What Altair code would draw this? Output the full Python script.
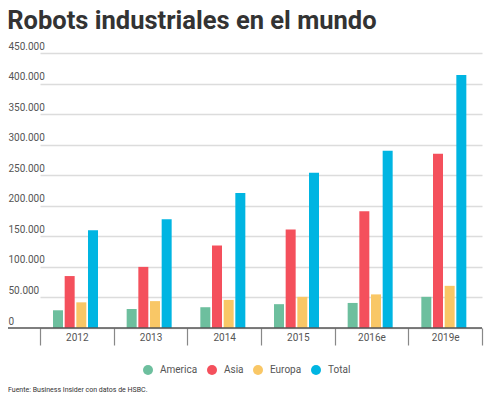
import altair as alt
import pandas as pd

years = ["2012", "2013", "2014", "2015", "2016e", "2019e"]
series = ["America", "Asia", "Europa", "Total"]
america = [29000, 31000, 34000, 39000, 41000, 51000]
asia = [85000, 100000, 135000, 161000, 191000, 285000]
europa = [42000, 44000, 46000, 51000, 55000, 69000]
total = [160000, 178000, 221000, 254000, 290000, 414000]
colors = ["#6dbf9e", "#f4505c", "#f9c766", "#00b5e2"]
y_ticks = [0, 50000, 100000, 150000, 200000, 250000, 300000, 350000, 400000, 450000]
title_text = "Robots industriales en el mundo"
source_text = "Fuente: Business Insider con datos de HSBC."

rows = []
for name, vals in zip(series, [america, asia, europa, total]):
    for yr, v in zip(years, vals):
        rows.append({"year": yr, "serie": name, "value": v})
df = pd.DataFrame(rows)

W, H = 474, 275
FONT = "Roboto"

yscale = alt.Scale(domain=[0, 450000], nice=False)
yaxis = alt.Axis(values=y_ticks, orient="left", labelAlign="left",
                 labelBaseline="bottom", labelPadding=0, labelOffset=-2,
                 labelOverlap=False, labelFlush=False,
                 ticks=False, domain=False, gridColor="#dcdcdc", gridWidth=1.5,
                 labelFontSize=10, labelColor="#555", labelFont=FONT,
                 labelExpr="replace(format(datum.value, ','), ',', '.')")

bars = alt.Chart(df).mark_bar().encode(
    x=alt.X("year:N", sort=years, title=None,
            scale=alt.Scale(range=[32, W], paddingInner=0, paddingOuter=0),
            axis=alt.Axis(tickBand="extent", tickSize=17, tickColor="#888", tickWidth=1.2,
                          domain=False, labelPadding=-13, labelFontSize=10,
                          labelColor="#555", labelFont=FONT, labelAngle=0, grid=False)),
    xOffset=alt.XOffset("serie:N", sort=series,
                        scale=alt.Scale(range=[13, 58], paddingInner=0.143, paddingOuter=0)),
    y=alt.Y("value:Q", title=None, scale=yscale, axis=yaxis),
    color=alt.Color("serie:N", sort=series, title=None,
                    scale=alt.Scale(domain=series, range=colors),
                    legend=alt.Legend(orient="none", legendX=135, legendY=312,
                                      direction="horizontal", symbolType="circle",
                                      symbolSize=100, symbolStrokeWidth=0,
                                      labelFontSize=10, labelColor="#555", labelFont=FONT,
                                      labelOffset=7, columnPadding=9)),
)

zero = alt.Chart(pd.DataFrame({"value": [0]})).mark_rule(color="#555", strokeWidth=1.5).encode(
    y=alt.Y("value:Q", title=None, scale=yscale, axis=yaxis)
)

source = alt.Chart(pd.DataFrame({"t": [source_text]})).mark_text(
    align="left", baseline="middle", fontSize=7, color="#333", font=FONT
).encode(text="t:N", x=alt.value(0), y=alt.value(H + 62))

chart = alt.layer(bars, zero, source).properties(
    width=W, height=H,
    title=alt.TitleParams(title_text, anchor="start", fontSize=25.5, fontWeight="bold",
                          font=FONT, color="#333", offset=7),
    autosize=alt.AutoSizeParams(type="none"),
    padding={"left": 0, "top": 45, "right": 10, "bottom": 70},
).configure_view(stroke=None)

chart.save("out.html", embed_options={"renderer": "svg", "actions": False})
